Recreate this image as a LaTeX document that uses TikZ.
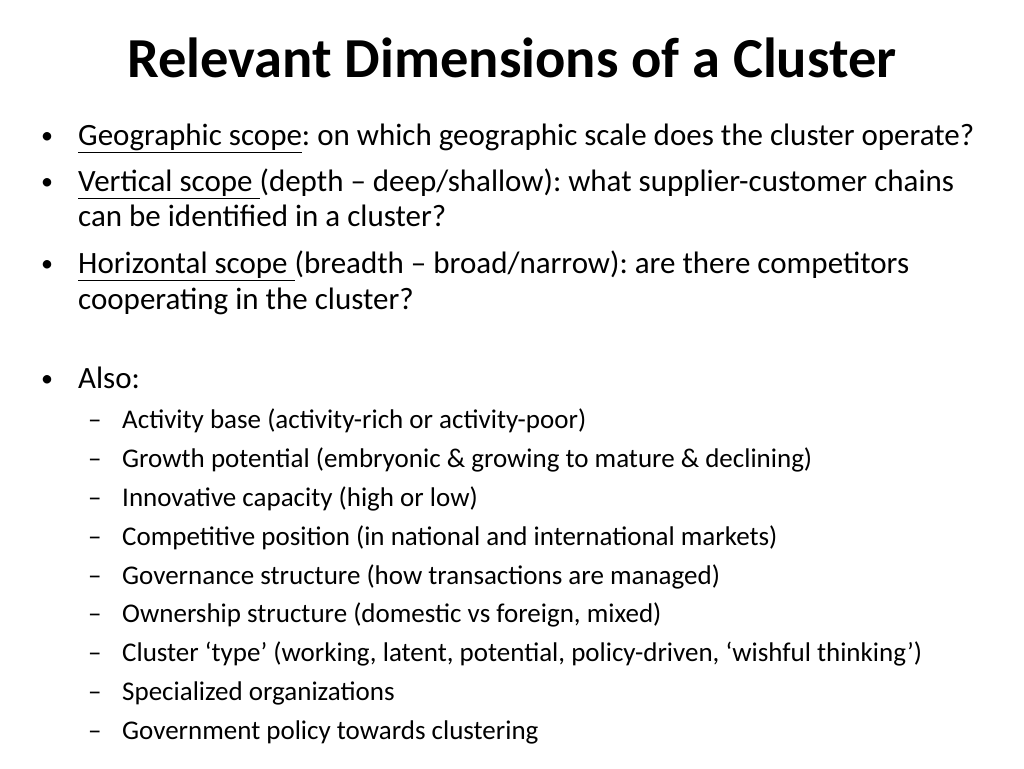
\documentclass[tikz,border=0pt]{standalone}
\usepackage{fontspec}
\setmainfont{Carlito}
\frenchspacing
\begin{document}
\begin{tikzpicture}[x=1pt,y=-1pt,
  ttl/.style={font=\fontsize{56.5}{60}\selectfont\bfseries, anchor=center, inner sep=0},
  bl/.style={font=\fontsize{31}{36}\selectfont, anchor=mid west, inner sep=0},
  bu/.style={font=\fontsize{24}{30}\selectfont, anchor=mid west, inner sep=0},
  sb/.style={font=\fontsize{27}{30}\selectfont, anchor=mid west, inner sep=0}]
\useasboundingbox (0,0) rectangle (1024,768);
\node[ttl] (t) at (512,58) {Relevant Dimensions of a Cluster};
\node[bu] (b1) at (41,141) {•};
\node[bl] (l1) at (78,143) {\underline{Geographic scope}: on which geographic scale does the cluster operate?};
\node[bu] (b2) at (41,187) {•};
\node[bl] (l2) at (78,189) {\underline{Vertical scope\ }(depth – deep/shallow): what supplier-customer chains};
\node[bl] (l2b) at (78,224) {can be identified in a cluster?};
\node[bu] (b3) at (41,269) {•};
\node[bl] (l3) at (78,271) {\underline{Horizontal scope\ }(breadth – broad/narrow): are there competitors};
\node[bl] (l3b) at (78,307) {cooperating in the cluster?};
\node[bu] (b4) at (41,384) {•};
\node[bl] (l4) at (78,386) {Also:};
\foreach \yy/\tx [count=\i] in {426/{Activity base (activity-rich or activity-poor)},
 465/{Growth potential (embryonic \& growing to mature \& declining)},
 504/{Innovative capacity (high or low)},
 543/{Competitive position (in national and international markets)},
 582/{Governance structure (how transactions are managed)},
 620/{Ownership structure (domestic vs foreign, mixed)},
 659/{Cluster ‘type’ (working, latent, potential, policy-driven, ‘wishful thinking’)},
 698/{Specialized organizations},
 737/{Government policy towards clustering}}{
  \node[sb] (d\i) at (88,\yy) {–};
  \node[sb] (s\i) at (122,\yy) {\tx};
}
\end{tikzpicture}
\end{document}
